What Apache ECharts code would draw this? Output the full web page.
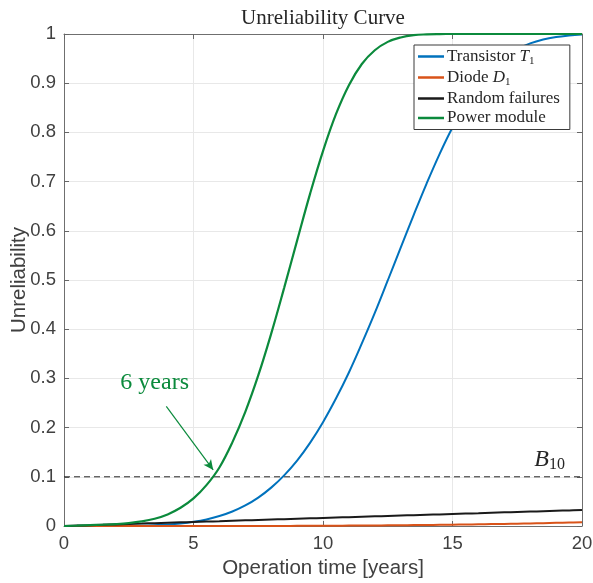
<!DOCTYPE html>
<html>
<head>
<meta charset="utf-8">
<script src="https://cdn.jsdelivr.net/npm/echarts@6/dist/echarts.min.js"></script>
<style>html,body{margin:0;padding:0;background:#fff}#c{width:593px;height:583px}</style>
</head>
<body>
<div id="c"></div>
<script>
// Operation time [years]
const years = [0,0.5,1,1.5,2,2.5,3,3.5,4,4.5,5,5.5,6,6.5,7,7.5,8,8.5,9,9.5,10,10.5,11,11.5,12,12.5,13,13.5,14,14.5,15,15.5,16,16.5,17,17.5,18,18.5,19,19.5,20];
// Unreliability values
const transistorT1 = [0,0,0,0,0.0001,0.0003,0.0007,0.0015,0.0029,0.0051,0.0085,0.0133,0.0202,0.0295,0.0418,0.0578,0.078,0.103,0.133,0.169,0.211,0.259,0.312,0.371,0.433,0.499,0.566,0.632,0.696,0.756,0.810,0.856,0.896,0.927,0.951,0.969,0.981,0.989,0.994,0.997,0.999];
const diodeD1 = [0,0,0,0,0,0,0,0,0,0,0,0,0,0,0,0.0001,0.0001,0.0002,0.0003,0.0004,0.0005,0.0006,0.0008,0.0009,0.0011,0.0013,0.0015,0.0018,0.0021,0.0024,0.0027,0.0031,0.0035,0.0039,0.0043,0.0048,0.0053,0.0058,0.0064,0.0070,0.0076];
const randomFailures = [0,0.0008,0.0016,0.0025,0.0033,0.0041,0.0049,0.0058,0.0066,0.0074,0.0082,0.009,0.0098,0.0107,0.0115,0.0123,0.0131,0.0139,0.0147,0.0155,0.0164,0.0172,0.018,0.0188,0.0196,0.0204,0.0212,0.022,0.0228,0.0236,0.0244,0.0252,0.026,0.0269,0.0277,0.0285,0.0293,0.0301,0.0309,0.0317,0.0325];
const powerModule = [0,0.0008,0.0017,0.0027,0.0039,0.0059,0.0093,0.0148,0.0236,0.037,0.056,0.083,0.119,0.170,0.232,0.306,0.391,0.484,0.580,0.675,0.762,0.837,0.896,0.939,0.967,0.984,0.993,0.9976,0.9992,0.9998,1,1,1,1,1,1,1,1,1,1,1];
// B10 reference level
const b10Level = 0.1;
const xRange = [0, 20];
const seriesNames = ['Transistor T1','Diode D1','Random failures','Power module'];
const seriesColors = ['#0072BD','#D95319','#1a1a1a','#0b8a3c'];
// annotations (data coordinates)
const b10LabelAt = [18.75, 0.135];
const yearsLabelAt = [3.5, 0.292];
const arrowFrom = [3.95, 0.243];
const arrowTo = [5.76, 0.114];

const pair = ys => years.map((t,i) => [t, ys[i]]);
const serif = "'Liberation Serif','DejaVu Serif',serif";
const sans = "'Liberation Sans',Arial,Helvetica,sans-serif";

const chart = echarts.init(document.getElementById('c'), null, {renderer:'canvas'});

const baseTick = {show:true, inside:true, length:5, lineStyle:{color:'#666', width:1}};
const axisLine = {show:true, onZero:false, lineStyle:{color:'#6f6f6f', width:1}};
const gridLine = {show:true, lineStyle:{color:'#e8e8e8', width:1}};

const lineSeries = (name, data, color, width, z) => ({
  name, type:'line', data:pair(data), showSymbol:false, symbol:'none',
  smooth:0.4,
  lineStyle:{color, width}, itemStyle:{color}, z, silent:true, animation:false
});

const option = {
  animation:false,
  grid:{left:64, right:11, top:34, bottom:57, containLabel:false, outerBoundsMode:'none'},
  graphic:[{type:'text', x:323, y:18, style:{text:'Unreliability Curve', font:"21px "+serif, fill:'#262626', textAlign:'center', textVerticalAlign:'middle'}}],
  legend:{
    orient:'vertical', left:414, top:45,
    data:seriesNames,
    icon:'rect', itemWidth:26, itemHeight:2.5, itemGap:2.5,
    padding:[3,10,3,4],
    backgroundColor:'#fff', borderColor:'#3a3a3a', borderWidth:1,
    selectedMode:false,
    formatter: function(name){
      if (name === 'Transistor T1') return '{n|Transistor }{i|T}{s|1}';
      if (name === 'Diode D1') return '{n|Diode }{i|D}{s|1}';
      return '{n|' + name + '}';
    },
    textStyle:{
      color:'#262626', fontFamily:serif, fontSize:17, padding:[0,0,0,-2],
      rich:{
        n:{fontFamily:serif, fontSize:17, color:'#262626', lineHeight:20},
        i:{fontFamily:serif, fontSize:17, fontStyle:'italic', color:'#262626', lineHeight:20},
        s:{fontFamily:serif, fontSize:11, color:'#262626', lineHeight:20, verticalAlign:'bottom', padding:[6,0,0,0]}
      }
    }
  },
  xAxis:[
    {type:'value', min:xRange[0], max:xRange[1], interval:5, position:'bottom',
     name:'Operation time [years]', nameLocation:'middle', nameGap:31,
     nameTextStyle:{fontFamily:sans, fontSize:20.5, color:'#404040'},
     axisLine, axisTick:baseTick, splitLine:gridLine,
     axisLabel:{fontFamily:sans, fontSize:18.5, color:'#404040', margin:8}},
    {type:'value', min:xRange[0], max:xRange[1], interval:5, position:'top',
     axisLine, axisTick:baseTick, splitLine:{show:false}, axisLabel:{show:false}}
  ],
  yAxis:[
    {type:'value', min:0, max:1, interval:0.1, position:'left',
     name:'Unreliability', nameLocation:'middle', nameGap:34, nameRotate:90, nameMoveOverlap:false,
     nameTextStyle:{fontFamily:sans, fontSize:20.5, color:'#404040'},
     axisLine, axisTick:baseTick, splitLine:gridLine,
     axisLabel:{fontFamily:sans, fontSize:18.5, color:'#404040', margin:8}},
    {type:'value', min:0, max:1, interval:0.1, position:'right',
     axisLine, axisTick:baseTick, splitLine:{show:false}, axisLabel:{show:false}}
  ],
  series:[
    {
      name:'B10', type:'line', data:[[xRange[0], b10Level],[xRange[1], b10Level]],
      showSymbol:false, symbol:'none', silent:true, z:1,
      lineStyle:{color:'#262626', width:1, type:[6,4]},
      markPoint:{
        silent:true, symbol:'circle', symbolSize:1, itemStyle:{color:'rgba(0,0,0,0)'},
        data:[{coord:b10LabelAt, label:{show:true, position:'inside',
          formatter:'{b|B}{s|10}',
          rich:{b:{fontFamily:serif, fontStyle:'italic', fontSize:24, color:'#262626', lineHeight:26},
                s:{fontFamily:serif, fontSize:16, color:'#262626', lineHeight:26, verticalAlign:'bottom', padding:[9,0,0,0]}}}}]
      }
    },
    lineSeries(seriesNames[0], transistorT1, seriesColors[0], 2, 3),
    lineSeries(seriesNames[1], diodeD1, seriesColors[1], 2, 3),
    lineSeries(seriesNames[2], randomFailures, seriesColors[2], 2, 3),
    Object.assign(lineSeries(seriesNames[3], powerModule, seriesColors[3], 2.2, 4), {
      markLine:{
        silent:true, symbol:['none','arrow'], symbolSize:[7,10],
        lineStyle:{color:seriesColors[3], width:1.2, type:'solid'},
        label:{show:false},
        data:[[{coord:arrowFrom},{coord:arrowTo}]]
      },
      markPoint:{
        silent:true, symbol:'circle', symbolSize:1, itemStyle:{color:'rgba(0,0,0,0)'},
        data:[{coord:yearsLabelAt, label:{show:true, position:'inside', formatter:'6 years',
          fontFamily:serif, fontSize:24, color:seriesColors[3]}}]
      }
    })
  ]
};
chart.setOption(option);
</script>
</body>
</html>
